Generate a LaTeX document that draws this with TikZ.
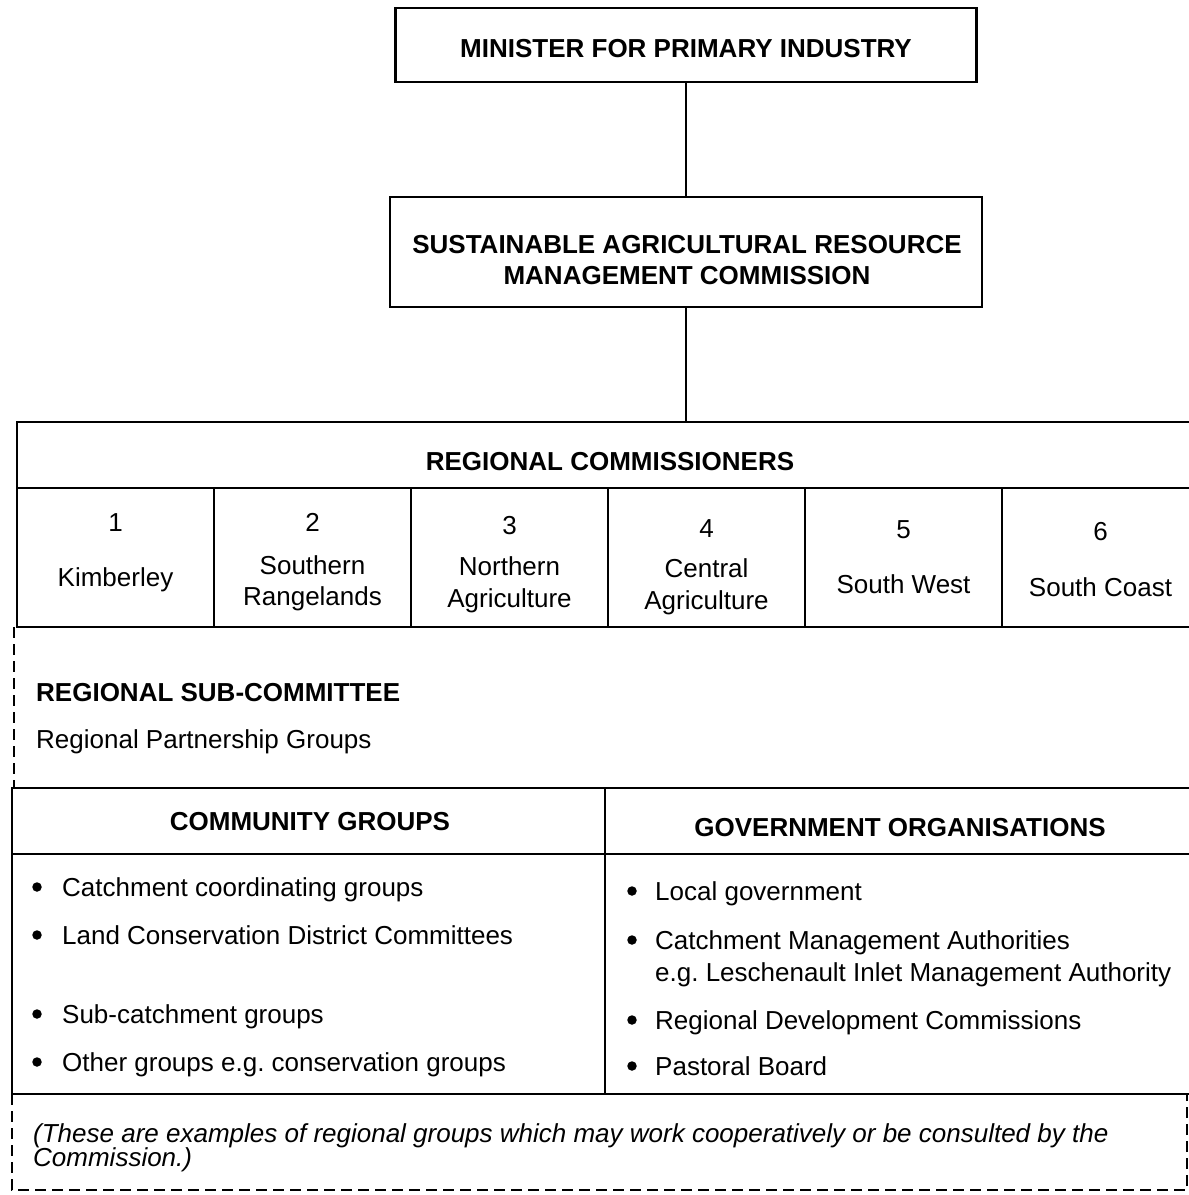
\documentclass[tikz,border=0pt]{standalone}
\usepackage{fontspec}
\setmainfont{Liberation Sans}
\frenchspacing
\begin{document}
\begin{tikzpicture}[x=1pt,y=-1pt,
  frame/.style={draw,line width=2.2pt},
  boxnode/.style={frame,rectangle,inner sep=0pt,align=center},
  txt/.style={anchor=base,inner sep=0pt},
  ltxt/.style={anchor=base west,inner sep=0pt},
  head/.style={font=\fontsize{26}{31}\selectfont\bfseries},
  body/.style={font=\fontsize{26}{31}\selectfont},
  note/.style={font=\fontsize{26}{31}\selectfont\itshape},
  dashline/.style={line width=1.6pt,dash pattern=on 11pt off 6pt},
  bul/.style={circle,fill,inner sep=0pt,minimum size=9.5pt}]
\useasboundingbox (0,0) rectangle (1189,1195);
\clip (0,0) rectangle (1189,1195);

% top of the hierarchy
\node[boxnode,minimum width=581pt,minimum height=74pt] (min) at (686,45) {};
\node[txt,head] (mint) at (686,57) {MINISTER FOR PRIMARY INDUSTRY};

\node[boxnode,minimum width=592pt,minimum height=110pt] (sarmc) at (686,252) {};
\node[txt,head] (sarmc1) at (687,253) {SUSTAINABLE AGRICULTURAL RESOURCE};
\node[txt,head] (sarmc2) at (687,284) {MANAGEMENT COMMISSION};

% regional commissioners
\node[boxnode,minimum width=1180pt,minimum height=66pt] (rc) at (607,455) {};
\node[txt,head] (rct) at (610,470) {REGIONAL COMMISSIONERS};

\foreach \i in {1,...,6} {
  \node[boxnode,minimum width=197pt,minimum height=139pt] (c\i) at ({17+197*(\i-0.5)},557.5) {};
}
\node[txt,body] (n1) at (c1.center |- 0,531) {1};
\node[txt,body] (k1) at (c1.center |- 0,586) {Kimberley};
\node[txt,body] (n2) at (c2.center |- 0,531) {2};
\node[txt,body] (k2a) at (c2.center |- 0,574) {Southern};
\node[txt,body] (k2b) at (c2.center |- 0,605) {Rangelands};
\node[txt,body] (n3) at (c3.center |- 0,534) {3};
\node[txt,body] (k3a) at (c3.center |- 0,575) {Northern};
\node[txt,body] (k3b) at (c3.center |- 0,607) {Agriculture};
\node[txt,body] (n4) at (c4.center |- 0,537) {4};
\node[txt,body] (k4a) at (c4.center |- 0,577) {Central};
\node[txt,body] (k4b) at (c4.center |- 0,609) {Agriculture};
\node[txt,body] (n5) at (c5.center |- 0,538) {5};
\node[txt,body] (k5) at (c5.center |- 0,593) {South West};
\node[txt,body] (n6) at (c6.center |- 0,540) {6};
\node[txt,body] (k6) at (c6.center |- 0,596) {South Coast};

% connectors
\draw[frame] (min.south) -- (sarmc.north);
\draw[frame] (sarmc.south) -- (sarmc.south |- rc.north);

% regional sub-committee
\coordinate (dl1) at (14,627);
\coordinate (dl2) at (14,788);
\draw[dashline] (dl1) -- (dl2);
\node[ltxt,head] (rsc) at (36,701) {REGIONAL SUB-COMMITTEE};
\node[ltxt,body] (rpg) at (36,748) {Regional Partnership Groups};

% community groups / government organisations
\node[boxnode,minimum width=593pt,minimum height=66pt] (cgh) at (308.5,821) {};
\node[boxnode,minimum width=592pt,minimum height=66pt] (goh) at (901,821) {};
\node[boxnode,minimum width=593pt,minimum height=240pt] (cgb) at (308.5,974) {};
\node[boxnode,minimum width=592pt,minimum height=240pt] (gob) at (901,974) {};
\node[txt,head] (cgt) at (310,830) {COMMUNITY GROUPS};
\node[txt,head] (got) at (900,836) {GOVERNMENT ORGANISATIONS};

\foreach \y/\t [count=\k] in {896/Catchment coordinating groups,
    944/Land Conservation District Committees,
    1023/Sub-catchment groups,
    1071/Other groups e.g. conservation groups} {
  \node[bul] (lb\k) at (37,\y-9) {};
  \node[ltxt,body] (lt\k) at (62,\y) {\t};
}
\foreach \y/\t [count=\k] in {900/Local government,
    949/Catchment Management Authorities,
    1029/Regional Development Commissions,
    1075/Pastoral Board} {
  \node[bul] (rb\k) at (632,\y-9) {};
  \node[ltxt,body] (rt\k) at (655,\y) {\t};
}
\node[ltxt,body] (rt2b) at (655,981) {e.g. Leschenault Inlet Management Authority};

% dashed outline round the note
\coordinate (d1) at (12,1094);
\coordinate (d2) at (12,1190);
\coordinate (d3) at (1187,1190);
\coordinate (d4) at (1187,1094);
\draw[dashline] (d1) -- (d2) -- (d3) -- (d4);
\node[ltxt,note] (nt1) at (33,1142) {(These are examples of regional groups which may work cooperatively or be consulted by the};
\node[ltxt,note] (nt2) at (33,1166) {Commission.)};
\end{tikzpicture}
\end{document}
